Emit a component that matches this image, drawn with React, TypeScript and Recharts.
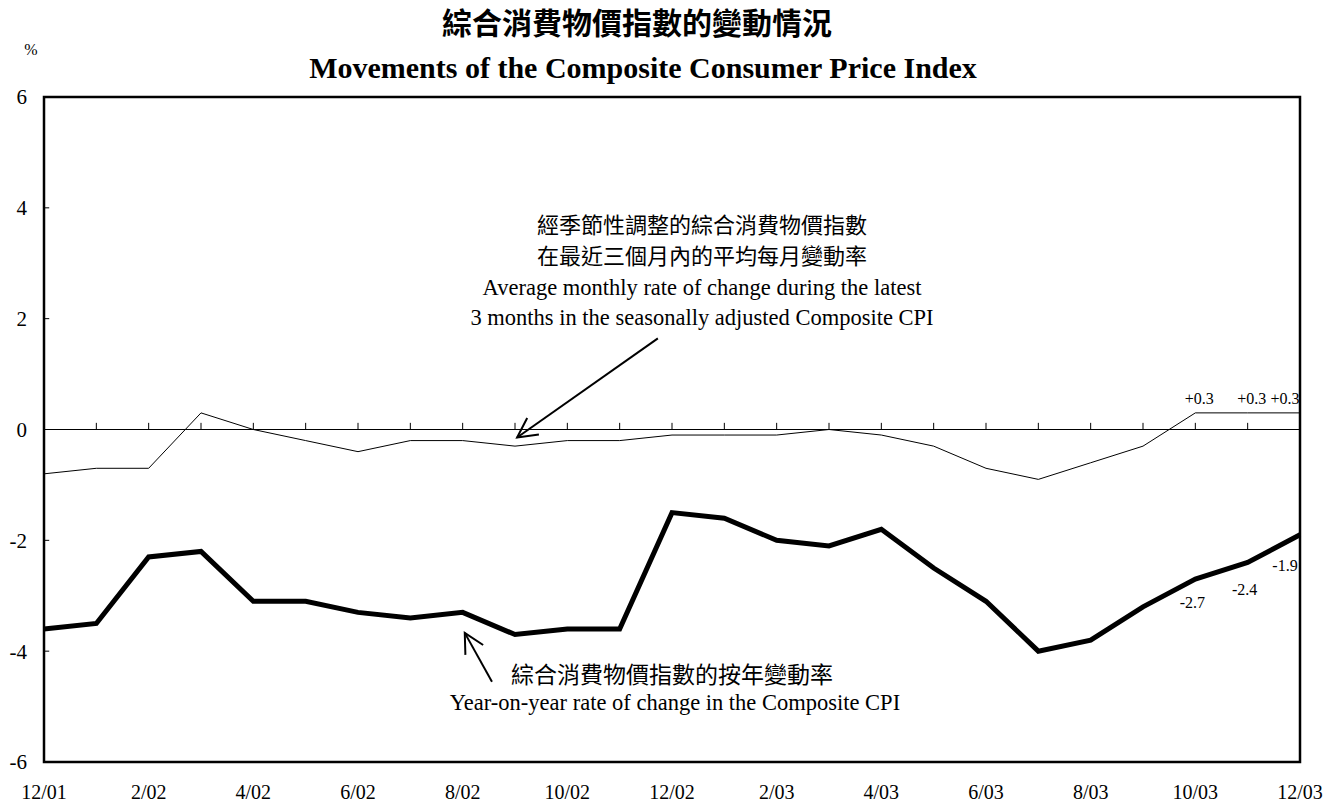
import React from 'react';
import {
  LineChart, Line, XAxis, YAxis, ReferenceLine, ReferenceArea, LabelList
} from 'recharts';

const months = [
  '12/01', '1/02', '2/02', '3/02', '4/02', '5/02', '6/02', '7/02', '8/02', '9/02', '10/02', '11/02',
  '12/02', '1/03', '2/03', '3/03', '4/03', '5/03', '6/03', '7/03', '8/03', '9/03', '10/03', '11/03', '12/03'
];
// year-on-year rate of change (thick line)
const yoyChange = [
  -3.6, -3.5, -2.3, -2.2, -3.1, -3.1, -3.3, -3.4, -3.3, -3.7, -3.6, -3.6,
  -1.5, -1.6, -2.0, -2.1, -1.8, -2.5, -3.1, -4.0, -3.8, -3.2, -2.7, -2.4, -1.9
];
// 3-month average monthly rate, seasonally adjusted (thin line)
const avgMonthly = [
  -0.8, -0.7, -0.7, 0.3, 0.0, -0.2, -0.4, -0.2, -0.2, -0.3, -0.2, -0.2,
  -0.1, -0.1, -0.1, 0.0, -0.1, -0.3, -0.7, -0.9, -0.6, -0.3, 0.3, 0.3, 0.3
];
const labelledMonths = ['10/03', '11/03', '12/03'];
const yTicks = [-6, -4, -2, 0, 2, 4, 6];
const xTicks = months.map((_, i) => i).filter((i) => i % 2 === 0);

const data = months.map((m, i) => ({ i, month: m, yoy: yoyChange[i], avg: avgMonthly[i] }));

const SERIF = "'Liberation Serif', 'Times New Roman', serif";
const CJK = "'Noto Sans CJK TC', 'Noto Sans CJK SC', sans-serif";

const fmt = (v: number) => (v > 0 ? `+${v.toFixed(1)}` : v.toFixed(1));

const AvgTag = (props: any) => {
  const { x, y, value, index } = props;
  if (!labelledMonths.includes(months[index])) return null;
  const dx = index === months.length - 1 ? -15 : 4;
  return (
    <text x={x + dx} y={y - 14} textAnchor="middle" dominantBaseline="central"
      fontFamily={SERIF} fontSize={16} fill="#000">{fmt(value)}</text>
  );
};

const YoyTag = (props: any) => {
  const { x, y, value, index } = props;
  if (!labelledMonths.includes(months[index])) return null;
  const k = index - (months.length - labelledMonths.length);
  const dx = index === months.length - 1 ? -15 : -3;
  return (
    <text x={x + dx} y={y + 23 + 4 * k} textAnchor="middle" dominantBaseline="central"
      fontFamily={SERIF} fontSize={16} fill="#000">{fmt(value)}</text>
  );
};

// line with an open arrowhead at its end point
const Arrow = (props: any) => {
  const { x1, y1, x2, y2 } = props;
  const a = Math.atan2(y1 - y2, x1 - x2);
  const len = 22;
  const spread = 0.48;
  const w1x = x2 + len * Math.cos(a - spread);
  const w1y = y2 + len * Math.sin(a - spread);
  const w2x = x2 + len * Math.cos(a + spread);
  const w2y = y2 + len * Math.sin(a + spread);
  return (
    <g stroke="#000" strokeWidth={2} fill="none">
      <line x1={x1} y1={y1} x2={x2} y2={y2} />
      <polyline points={`${w1x},${w1y} ${x2},${y2} ${w2x},${w2y}`} />
    </g>
  );
};

const Caption = ({ cx, cy, size, font, bold, children }: any) => (
  <div style={{
    position: 'absolute', left: cx - 400, width: 800, top: cy - size / 2, height: size,
    lineHeight: `${size}px`, textAlign: 'center', fontSize: size, fontFamily: font,
    fontWeight: bold ? 700 : 400, color: '#000', whiteSpace: 'nowrap'
  }}>{children}</div>
);

const App: React.FC = () => {
  return (
    <div style={{ position: 'absolute', left: 0, top: 0, width: 1326, height: 807, background: '#fff' }}>
      <LineChart width={1326} height={807} data={data}
        margin={{ top: 97, right: 26, bottom: 0, left: 0 }}>
        <XAxis dataKey="i" type="number" domain={[0, 24]} ticks={xTicks}
          tickFormatter={(v: number) => months[v]} axisLine={false} tickLine={false}
          tickSize={0} tickMargin={23} height={45} interval={0}
          tick={{ fill: '#000', fontSize: 20, fontFamily: SERIF }} />
        <YAxis type="number" domain={[-6, 6]} ticks={yTicks} width={44}
          axisLine={false} tickLine={false} tickSize={0} tickMargin={17} interval={0}
          tick={{ fill: '#000', fontSize: 21, fontFamily: SERIF }} />
        <ReferenceLine y={0} stroke="#000" strokeWidth={1} />
        {months.slice(1, -1).map((m, i) => (
          <ReferenceLine key={m} segment={[{ x: i + 1, y: 0 }, { x: i + 1, y: 0.12 }]}
            stroke="#000" strokeWidth={1} />
        ))}
        {yTicks.slice(1, -1).map((v) => (
          <ReferenceLine key={`y${v}`} segment={[{ x: 0, y: v }, { x: 0.1, y: v }]}
            stroke="#000" strokeWidth={1} />
        ))}
        <ReferenceLine segment={[{ x: 11.73, y: 1.645 }, { x: 9.04, y: -0.145 }]} shape={Arrow} />
        <ReferenceLine segment={[{ x: 8.56, y: -4.55 }, { x: 8.04, y: -3.67 }]} shape={Arrow} />
        <Line type="linear" dataKey="avg" stroke="#000" strokeWidth={1} dot={false}
          isAnimationActive={false}>
          <LabelList dataKey="avg" content={AvgTag} />
        </Line>
        <Line type="linear" dataKey="yoy" stroke="#000" strokeWidth={5} dot={false}
          strokeLinejoin="miter" isAnimationActive={false}>
          <LabelList dataKey="yoy" content={YoyTag} />
        </Line>
        <ReferenceArea x1={0} x2={24} y1={-6} y2={6} fill="none" stroke="#000"
          strokeWidth={2.5} ifOverflow="visible" />
      </LineChart>

      <Caption cx={31} cy={50} size={16} font={SERIF}>%</Caption>
      <Caption cx={637} cy={21} size={30} font={CJK} bold>綜合消費物價指數的變動情況</Caption>
      <Caption cx={643} cy={68} size={30} font={SERIF} bold>Movements of the Composite Consumer Price Index</Caption>

      <Caption cx={702} cy={223} size={22} font={CJK}>經季節性調整的綜合消費物價指數</Caption>
      <Caption cx={702} cy={254} size={22} font={CJK}>在最近三個月內的平均每月變動率</Caption>
      <Caption cx={702} cy={288} size={22.5} font={SERIF}>Average monthly rate of change during the latest</Caption>
      <Caption cx={702} cy={318} size={22.5} font={SERIF}>3 months in the seasonally adjusted Composite CPI</Caption>

      <Caption cx={672} cy={673} size={23} font={CJK}>綜合消費物價指數的按年變動率</Caption>
      <Caption cx={675} cy={703} size={22.5} font={SERIF}>Year-on-year rate of change in the Composite CPI</Caption>
    </div>
  );
};

export default App;
